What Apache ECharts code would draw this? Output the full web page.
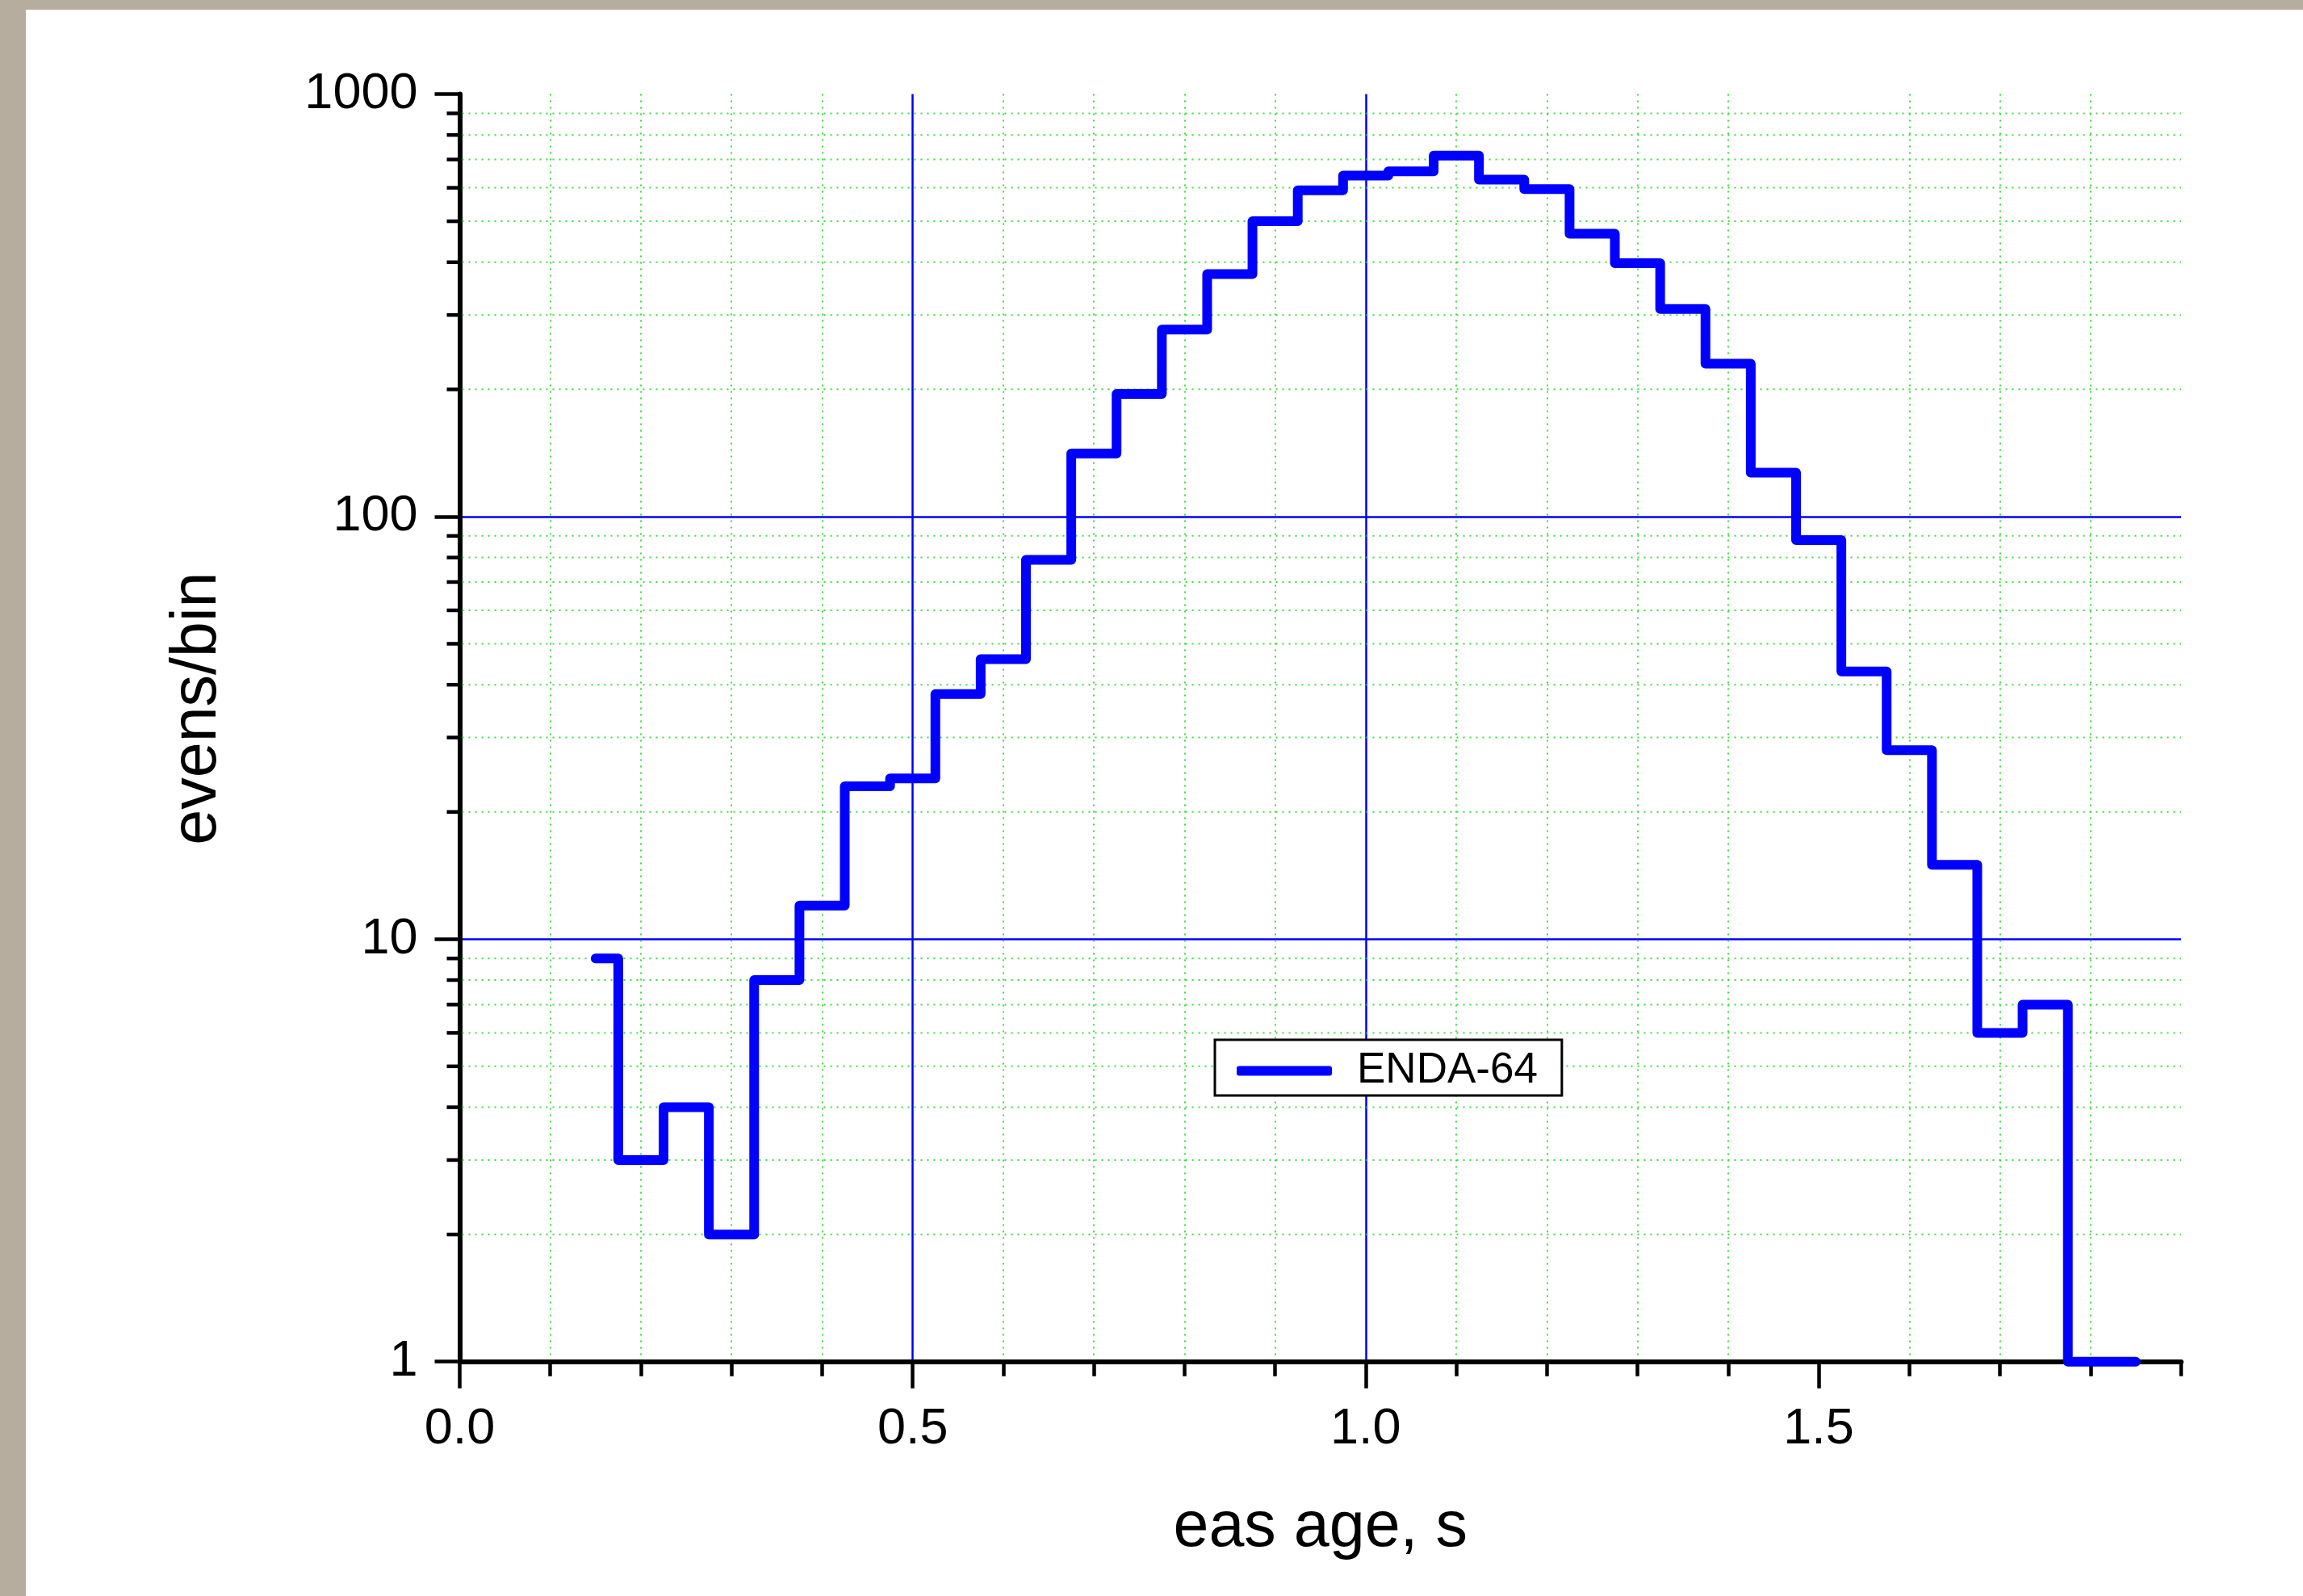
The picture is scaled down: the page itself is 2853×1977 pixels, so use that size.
<!DOCTYPE html>
<html>
<head>
<meta charset="utf-8">
<script src="https://cdn.jsdelivr.net/npm/echarts@6/dist/echarts.min.js"></script>
<style>
  html, body { margin: 0; padding: 0; width: 2853px; height: 1977px; background: #b7ad9f; overflow: hidden; }
  #chart { position: absolute; left: 32px; top: 12px; width: 2821px; height: 1965px; background: #ffffff; }
</style>
</head>
<body>
<div id="chart"></div>
<script>
// ---- data ----
const seriesName = 'ENDA-64';
const xTitle = 'eas age, s';
const yTitle = 'evens/bin';
const ageValues = [0.15, 0.20, 0.25, 0.30, 0.35, 0.40, 0.45, 0.50, 0.55, 0.60, 0.65,
                   0.70, 0.75, 0.80, 0.85, 0.90, 0.95, 1.00, 1.05, 1.10, 1.15,
                   1.20, 1.25, 1.30, 1.35, 1.40, 1.45, 1.50, 1.55, 1.60, 1.65,
                   1.70, 1.75, 1.80, 1.85];
const countValues = [9, 3, 4, 2, 8, 12, 23, 24, 38, 46, 79,
                     141, 195, 277, 375, 500, 592, 641, 656, 715, 627,
                     596, 467, 398, 310, 230, 127, 88, 43, 28, 15,
                     6, 7, 1, 1];
const xTickLabels = [0, 0.5, 1.0, 1.5];
const xEndTicks = [1.9];
const yMinorTicks = [2, 3, 4, 5, 6, 7, 8, 9, 20, 30, 40, 50, 60, 70, 80, 90,
                     200, 300, 400, 500, 600, 700, 800, 900];
const X_MIN = 0, X_MAX = 1.9, Y_MIN = 1, Y_MAX = 1000;

const FONT = "'Liberation Sans', Arial, sans-serif";
const BLUE = '#0000ff';
const GREEN = '#3ade3a';

const chart = echarts.init(document.getElementById('chart'));
chart.setOption({
  animation: false,
  backgroundColor: '#ffffff',
  textStyle: { fontFamily: FONT },
  grid: { left: 537.5, top: 104.5, right: 151, bottom: 290.3, containLabel: false },
  legend: {
    data: [seriesName],
    left: 1473, top: 1276,
    orient: 'horizontal',
    padding: [12, 30, 4, 27],
    borderColor: '#000', borderWidth: 3, backgroundColor: '#fff',
    icon: 'roundRect',
    itemWidth: 118, itemHeight: 12,
    textStyle: { fontSize: 53, color: '#000', fontFamily: FONT, padding: [0, 0, 0, 26], lineHeight: 53 }
  },
  xAxis: {
    type: 'value', min: X_MIN, max: X_MAX, interval: 0.5,
    name: xTitle, nameLocation: 'middle', nameGap: 167,
    nameTextStyle: { fontSize: 79, color: '#000', fontFamily: FONT },
    axisLine: { show: true, onZero: false, lineStyle: { color: '#000', width: 6 } },
    axisTick: { show: true, inside: false, length: 33, customValues: xTickLabels, lineStyle: { color: '#000', width: 4.5 } },
    minorTick: { show: true, splitNumber: 5, length: 18, lineStyle: { color: '#000', width: 4.5 } },
    axisLabel: { show: true, customValues: xTickLabels, margin: 52, fontSize: 63, color: '#000', fontFamily: FONT,
                 formatter: v => Number(v).toFixed(1) },
    splitLine: { show: true, showMinLine: false, showMaxLine: false, lineStyle: { color: BLUE, width: 2.5, type: 'solid' } },
    minorSplitLine: { show: true, lineStyle: { color: GREEN, width: 2, type: [2, 6] } }
  },
  yAxis: {
    type: 'log', logBase: 10, min: Y_MIN, max: Y_MAX,
    name: yTitle, nameLocation: 'middle', nameGap: 285, nameRotate: 90,
    nameTextStyle: { fontSize: 79, color: '#000', fontFamily: FONT, padding: [0, 0, 0, 48] },
    axisLine: { show: true, lineStyle: { color: '#000', width: 6 } },
    axisTick: { show: true, inside: false, length: 31, lineStyle: { color: '#000', width: 4.5 } },
    axisLabel: { show: true, margin: 52, fontSize: 63, color: '#000', fontFamily: FONT,
                 formatter: v => String(Math.round(v)) },
    splitLine: { show: true, showMinLine: false, showMaxLine: false, lineStyle: { color: BLUE, width: 2.5, type: 'solid' } }
  },
  series: [
    {
      name: 'minorY',
      type: 'custom',
      z: 1,
      clip: false,
      silent: true,
      data: yMinorTicks.map(v => [X_MIN, v]),
      renderItem: function (params, api) {
        const v = api.value(1);
        const p0 = api.coord([X_MIN, v]);
        const p1 = api.coord([X_MAX, v]);
        return {
          type: 'group',
          children: [
            { type: 'line', shape: { x1: p0[0] + 3, y1: p0[1], x2: p1[0], y2: p1[1] },
              style: { stroke: GREEN, lineWidth: 2, lineDash: [2, 6] } },
            { type: 'line', shape: { x1: p0[0] - 16, y1: p0[1], x2: p0[0], y2: p0[1] },
              style: { stroke: '#000', lineWidth: 4.5 } }
          ]
        };
      }
    },
    {
      name: 'endTickX',
      type: 'custom',
      z: 1,
      clip: false,
      silent: true,
      data: xEndTicks.map(x => [x, Y_MIN]),
      renderItem: function (params, api) {
        const p = api.coord([api.value(0), api.value(1)]);
        return { type: 'line', shape: { x1: p[0], y1: p[1], x2: p[0], y2: p[1] + 18 },
                 style: { stroke: '#000', lineWidth: 4.5 } };
      }
    },
    {
      name: seriesName,
      type: 'line',
      step: 'middle',
      z: 5,
      clip: false,
      showSymbol: false,
      symbol: 'none',
      data: ageValues.map((x, i) => [x, countValues[i]]),
      lineStyle: { color: BLUE, width: 12, join: 'round', cap: 'round' },
      itemStyle: { color: BLUE }
    }
  ]
});
</script>
</body>
</html>
